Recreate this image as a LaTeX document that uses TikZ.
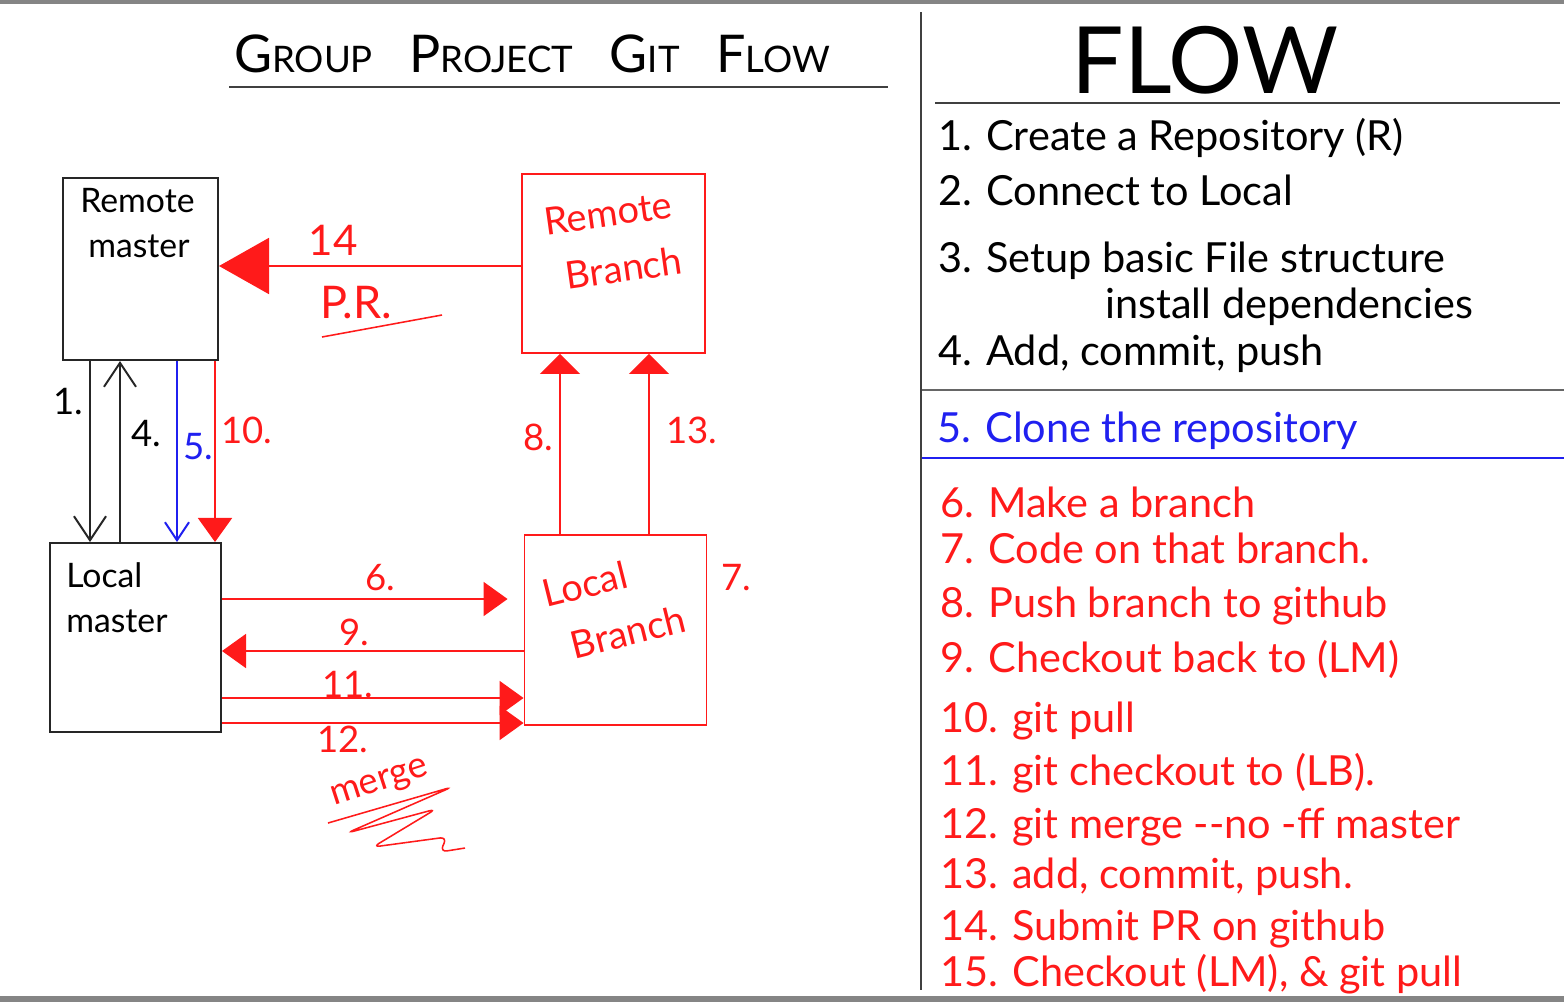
\documentclass[tikz,border=0pt]{standalone}
\usepackage{fontspec}
\setmainfont{Lato}
\usetikzlibrary{arrows.meta,positioning,calc}
\definecolor{inkred}{HTML}{FF1A1A}
\definecolor{inkblue}{HTML}{2020F0}
\definecolor{inkgray}{HTML}{858585}
\newcommand{\bigini}[1]{{\fontsize{37}{37}\selectfont #1}}
\tikzset{
  bbox/.style  ={rectangle, draw=black!85, line width=1.4pt, inner sep=0pt},
  rbox/.style  ={rectangle, draw=inkred, line width=1.3pt, inner sep=0pt},
  hand/.style  ={font=\fontsize{24}{32}\selectfont, align=left, inner sep=0pt},
  lbl/.style   ={font=\fontsize{26}{28}\selectfont, inner sep=0pt},
  item/.style  ={anchor=base west, font=\fontsize{29.5}{32}\selectfont, inner sep=0pt},
  rule/.style  ={line width=1.5pt, draw=black!75},
  karr/.style  ={-{Straight Barb[length=0.6cm,width=0.8cm]}, line width=1.4pt, draw=black!85},
  barr/.style  ={-{Straight Barb[length=0.45cm,width=0.6cm]}, line width=1.4pt, draw=inkblue},
  rarr/.style  ={-{Triangle[length=0.6cm,width=0.85cm]}, line width=1.3pt, draw=inkred},
  varr/.style  ={-{Triangle[length=0.5cm,width=1cm]}, line width=1.3pt, draw=inkred},
  bigarr/.style={-{Triangle[length=1.25cm,width=1.4cm]}, line width=1.3pt, draw=inkred}
}
\begin{document}
\begin{tikzpicture}[x=0.025cm, y=-0.025cm]
\useasboundingbox (0,0) rectangle (1564,1002);
% frame bands
\fill[inkgray] (0,0) rectangle (1564,4);
\fill[inkgray] (0,996) rectangle (1564,1002);
\draw[rule] (921,12) -- (921,990);

% title
\node[font=\fontsize{26}{26}\selectfont, inner sep=0pt] (ttl) at (532,54)
  {\bigini{G}ROUP\quad \bigini{P}ROJECT\quad \bigini{G}IT\quad \bigini{F}LOW};
\draw[rule] (229,87) -- (888,87);

% boxes
\node[bbox, minimum width=3.875cm, minimum height=4.55cm] (rm) at (140.5,269) {};
\node[bbox, minimum width=4.275cm, minimum height=4.725cm] (lm) at (135.5,637.5) {};
\node[rbox, minimum width=4.575cm, minimum height=4.475cm] (rb) at (613.5,263.5) {};
\node[rbox, minimum width=4.55cm, minimum height=4.75cm] (lb) at (615.5,630) {};

\node[hand, anchor=north west] (rmt) at (80,188) {Remote\\\hspace*{0.2cm}master};
\node[hand, anchor=north west] (lmt) at (66,562) {Local\\master};
\node[hand, text=inkred, rotate=8, font=\fontsize{27}{27}\selectfont] (rbt1) at (608,213) {Remote};
\node[hand, text=inkred, rotate=8, font=\fontsize{27}{27}\selectfont] (rbt2) at (624,268) {Branch};
\node[hand, text=inkred, rotate=14, font=\fontsize{27}{27}\selectfont] (lbt1) at (585,584) {Local};
\node[hand, text=inkred, rotate=14, font=\fontsize{27}{27}\selectfont] (lbt2) at (628,632) {Branch};

% links between masters
\draw[karr] (rm.south -| 90,0) -- (lm.north -| 90,0);
\draw[karr] (lm.north -| 120,0) -- (rm.south -| 120,0);
\draw[barr] (rm.south -| 177,0) -- (lm.north -| 177,0);
\draw[rarr] (rm.south -| 215,0) -- (lm.north -| 215,0);
\node[lbl] (n1) at (68,402) {1.};
\node[lbl] (n4) at (146,434) {4.};
\node[lbl, text=inkblue] (n5) at (198,447) {5.};
\node[lbl, text=inkred] (n10) at (247,430) {10.};

% pull request
\draw[bigarr] (rb.west |- 0,266) -- (rm.east |- 0,266);
\node[lbl, text=inkred, font=\fontsize{30}{30}\selectfont] (n14) at (333,240) {14};
\node[lbl, text=inkred, font=\fontsize{32}{32}\selectfont] (pr) at (356,303) {P.R.};
\draw[inkred, line width=1.1pt] (322,337) -- (442,315);

% push branch
\draw[varr] (lb.north -| 560,0) -- (rb.south -| 560,0);
\draw[varr] (lb.north -| 649,0) -- (rb.south -| 649,0);
\node[lbl, text=inkred] (n8) at (538,437) {8.};
\node[lbl, text=inkred] (n13) at (692,430) {13.};
\node[lbl, text=inkred] (n7) at (736,578) {7.};

% local branch links
\draw[rarr, shorten >=0.4cm] (lm.east |- 0,599) -- (lb.west |- 0,599);
\draw[rarr] (lb.west |- 0,651) -- (lm.east |- 0,651);
\draw[rarr] (lm.east |- 0,698) -- (lb.west |- 0,698);
\draw[rarr] (lm.east |- 0,723) -- (lb.west |- 0,723);
\node[lbl, text=inkred] (n6) at (380,578) {6.};
\node[lbl, text=inkred] (n9) at (354,632) {9.};
\node[lbl, text=inkred] (n11) at (348,684) {11.};
\node[lbl, text=inkred] (n12) at (343,739) {12.};
\node[lbl, text=inkred, rotate=18] (mrg) at (380,784) {merge};
\draw[inkred, line width=1.1pt, rounded corners=5pt]
  (328,823) -- (452,787) -- (347,833) -- (436,809) -- (373,847) -- (447,837) -- (440,852) -- (465,848);

% flow list
\node[font=\fontsize{66}{66}\selectfont, inner sep=0pt] (flw) at (1205,60) {FLOW};
\draw[rule] (935,103) -- (1560,103);
\foreach \n/\y/\t in {1/150/{1. Create a Repository (R)}, 2/205/{2. Connect to Local},
                      3/272/{3. Setup basic File structure}, 4/365/{4. Add, commit, push}}
  \node[item] (s\n) at (938,\y) {\t};
\node[item] (s3b) at (1105,318) {install dependencies};
\draw[rule, draw=black!60] (922,390) -- (1564,390);
\node[item, text=inkblue] (s5) at (937,442) {5. Clone the repository};
\draw[line width=1.3pt, inkblue] (922,458) -- (1564,458);
\foreach \n/\y/\t in {6/517/{6. Make a branch}, 7/563/{7. Code on that branch.},
                      8/617/{8. Push branch to github}, 9/672/{9. Checkout back to (LM)},
                      10/732/{10. git pull}, 11/785/{11. git checkout to (LB).},
                      12/838/{12. git merge -{}-no -ff master}, 13/888/{13. add, commit, push.},
                      14/940/{14. Submit PR on github}, 15/986/{15. Checkout (LM), \& git pull}}
  \node[item, text=inkred] (s\n) at (940,\y) {\t};
\end{tikzpicture}
\end{document}
